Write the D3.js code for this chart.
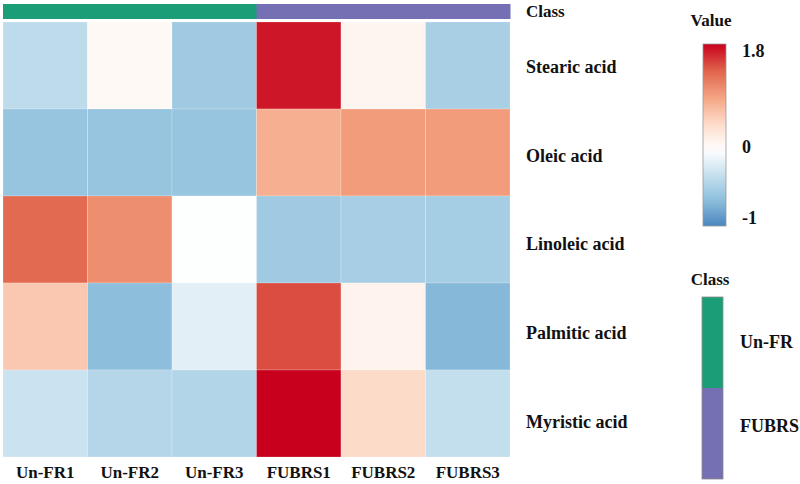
<!DOCTYPE html>
<html lang="en">
<head>
    <meta charset="UTF-8">
    <title>Fatty acid heatmap</title>
    <script src="https://d3js.org/d3.v7.min.js"></script>
    <style>
        body { margin: 0; padding: 0; background: #fff; }
        svg { display: block; font-family: "Liberation Serif", "DejaVu Serif", serif; font-weight: bold; fill: #111; }
    </style>
</head>
<body>
    <div id="chart"></div>
    <script>
        // data
        var samples = ["Un-FR1", "Un-FR2", "Un-FR3", "FUBRS1", "FUBRS2", "FUBRS3"];
        var sampleClass = ["Un-FR", "Un-FR", "Un-FR", "FUBRS", "FUBRS", "FUBRS"];
        var classes = ["Un-FR", "FUBRS"];
        var acids = ["Stearic acid", "Oleic acid", "Linoleic acid", "Palmitic acid", "Myristic acid"];
        var stearic = [-0.38, 0.08, -0.55, 1.7, 0.12, -0.5];
        var oleic = [-0.6, -0.6, -0.6, 0.8, 0.95, 0.95];
        var linoleic = [1.3, 1.05, -0.01, -0.55, -0.51, -0.52];
        var palmitic = [0.6, -0.66, -0.17, 1.45, 0.15, -0.7];
        var myristic = [-0.3, -0.43, -0.44, 1.8, 0.45, -0.35];
        var valueTicks = [1.8, 0, -1];

        var rowsData = [stearic, oleic, linoleic, palmitic, myristic];

        var width = 800, height = 484;
        var svg = d3.select("#chart").append("svg")
            .attr("width", width)
            .attr("height", height);

        var x = d3.scaleBand().domain(samples).range([3, 510]);
        var y = d3.scaleBand().domain(acids).range([22, 457]);
        // row labels sit a little lower than the cell centres in the original
        var yLabel = d3.scaleBand().domain(acids).range([22, 466]);

        var color = d3.scaleLinear()
            .domain([-1, -0.66, -0.33, 0, 0.45, 0.9, 1.35, 1.8])
            .range(["#4a86bf", "#8dbfdc", "#c6e0ee", "#ffffff", "#fddbc9", "#f4a381", "#e0634b", "#c8001e"])
            .interpolate(d3.interpolateRgb);

        var classColor = d3.scaleOrdinal().domain(classes).range(["#1b9e77", "#7570b3"]);

        // class bar on top
        svg.append("g").selectAll("rect")
            .data(samples)
            .enter().append("rect")
            .attr("x", function (d) { return x(d); })
            .attr("y", 4)
            .attr("width", x.bandwidth() + 0.5)
            .attr("height", 15)
            .attr("fill", function (d, i) { return classColor(sampleClass[i]); });

        svg.append("text")
            .attr("x", 526).attr("y", 17)
            .attr("font-size", 17)
            .text("Class");

        // cells
        var cells = [];
        acids.forEach(function (a, r) {
            samples.forEach(function (s, c) {
                cells.push({ acid: a, sample: s, value: rowsData[r][c] });
            });
        });

        svg.append("g").selectAll("rect")
            .data(cells)
            .enter().append("rect")
            .attr("x", function (d) { return x(d.sample); })
            .attr("y", function (d) { return y(d.acid); })
            .attr("width", x.bandwidth())
            .attr("height", y.bandwidth())
            .attr("fill", function (d) { return color(d.value); })
            .attr("stroke", "#ffffff")
            .attr("stroke-opacity", 0.35)
            .attr("stroke-width", 0.6);

        // row labels
        svg.append("g").selectAll("text")
            .data(acids)
            .enter().append("text")
            .attr("x", 526)
            .attr("y", function (d) { return yLabel(d) + yLabel.bandwidth() / 2; })
            .attr("dy", "0.35em")
            .attr("font-size", 18)
            .text(function (d) { return d; });

        // column labels
        svg.append("g").selectAll("text")
            .data(samples)
            .enter().append("text")
            .attr("x", function (d) { return x(d) + x.bandwidth() / 2; })
            .attr("y", 478)
            .attr("text-anchor", "middle")
            .attr("font-size", 17)
            .text(function (d) { return d; });

        // value legend
        var lx = 703, lw = 23, ltop = 44, lbot = 226;
        var grad = svg.append("defs").append("linearGradient")
            .attr("id", "vgrad")
            .attr("x1", 0).attr("y1", 1).attr("x2", 0).attr("y2", 0);
        var ly = d3.scaleLinear().domain([-1, 0, 1.8]).range([lbot, 150, ltop]);
        d3.range(0, 1.0001, 0.05).forEach(function (t) {
            var v = ly.invert(lbot - t * (lbot - ltop));
            grad.append("stop")
                .attr("offset", t)
                .attr("stop-color", color(v));
        });
        svg.append("rect")
            .attr("x", lx).attr("y", ltop)
            .attr("width", lw).attr("height", lbot - ltop)
            .attr("fill", "url(#vgrad)")
            .attr("stroke", "#9a9a9a")
            .attr("stroke-width", 0.8);
        svg.append("text")
            .attr("x", 711).attr("y", 26)
            .attr("text-anchor", "middle")
            .attr("font-size", 17)
            .text("Value");

        var tickY = d3.scaleLinear().domain([-1, 0, 1.8]).range([218, 147, 51]);
        svg.append("g").selectAll("text")
            .data(valueTicks)
            .enter().append("text")
            .attr("x", 742)
            .attr("y", function (d) { return tickY(d); })
            .attr("dy", "0.35em")
            .attr("font-size", 18)
            .text(function (d) { return d; });

        // class legend
        var cy = d3.scaleBand().domain(classes).range([297, 479]);
        var classLabelShift = [-1, -8];
        svg.append("g").selectAll("rect")
            .data(classes)
            .enter().append("rect")
            .attr("x", 702)
            .attr("y", function (d) { return cy(d); })
            .attr("width", 21)
            .attr("height", cy.bandwidth())
            .attr("fill", function (d) { return classColor(d); });
        svg.append("rect")
            .attr("x", 702).attr("y", 297)
            .attr("width", 21).attr("height", 182)
            .attr("fill", "none")
            .attr("stroke", "#8a8a8a")
            .attr("stroke-width", 0.8);
        svg.append("text")
            .attr("x", 710).attr("y", 285)
            .attr("text-anchor", "middle")
            .attr("font-size", 17)
            .text("Class");
        svg.append("g").selectAll("text")
            .data(classes)
            .enter().append("text")
            .attr("x", 740)
            .attr("y", function (d, i) { return cy(d) + cy.bandwidth() / 2 + classLabelShift[i]; })
            .attr("dy", "0.35em")
            .attr("font-size", 18)
            .text(function (d) { return d; });
    </script>
</body>
</html>
